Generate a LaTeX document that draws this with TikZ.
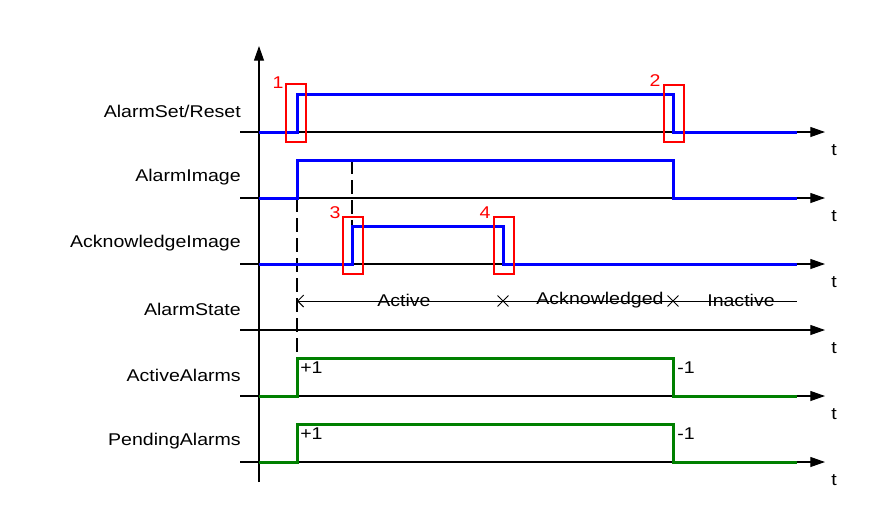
\documentclass[tikz,border=0pt]{standalone}
\usepackage{fontspec}
\setmainfont{Liberation Sans}[FakeStretch=1.15]
\usetikzlibrary{arrows.meta, shapes.misc}

\begin{document}
\begin{tikzpicture}[x=0.75pt, y=-0.75pt,
    every node/.style={font=\fontsize{12.75}{15}\selectfont, inner sep=0pt},
    axis/.style={line width=0.8pt, -{Triangle[length=11pt, width=7.5pt]}},
    bluesig/.style={line width=2.25pt, blue},
    greensig/.style={line width=2.25pt, green!50!black},
    redbox/.style={draw=red, line width=1pt},
    rednum/.style={text=red},
    guide/.style={line width=1.1pt, dash pattern=on 10.5pt off 4.5pt},
    xmark/.style={cross out, draw, line width=0.7pt, minimum size=7.5pt}]
  \useasboundingbox (0,0) rectangle (876,529);

  \draw[axis] (259,482) -- (259,46);
  \foreach \y/\name/\txt in {132/set/AlarmSet\slash Reset, 198/image/AlarmImage,
      264/ack/AcknowledgeImage, 330/state/AlarmState, 396/active/ActiveAlarms,
      462/pending/PendingAlarms} {
    \draw[axis] (240,\y) -- (825,\y);
    \node[anchor=east] (lbl-\name) at (241,\y-21) {\txt};
    \node (t-\name) at (834,\y+18) {t};
  }

  \draw[guide] (297,198) -- (297,358);
  \draw[guide] (352,160) -- (352,226);

  \draw[bluesig] (259,132) -- (297,132) -- (297,94) -- (673,94) -- (673,132) -- (797,132);
  \draw[bluesig] (259,198) -- (297,198) -- (297,160) -- (673,160) -- (673,198) -- (797,198);
  \draw[bluesig] (259,264) -- (352,264) -- (352,226) -- (503,226) -- (503,264) -- (797,264);
  \draw[greensig] (259,396) -- (297,396) -- (297,358) -- (673,358) -- (673,396) -- (797,396);
  \draw[greensig] (259,462) -- (297,462) -- (297,424) -- (673,424) -- (673,462) -- (797,462);

  \coordinate (onmark) at (297,301);
  \coordinate (endmark) at (797,301);
  \draw[line width=0.75pt, {Straight Barb[length=4.5pt, width=9pt]}-] (onmark) -- (endmark);
  \node[xmark] (ackmark) at (503,301) {};
  \node[xmark] (offmark) at (673,301) {};
  \node (active) at (404,300) {Active};
  \node (acked) at (600,300) {Acknowledged};
  \node (inactive) at (741,300) {Inactive};

  \draw[redbox] (286,84) rectangle (306,142);
  \draw[redbox] (664,85) rectangle (684,142);
  \draw[redbox] (343,217) rectangle (363,274);
  \draw[redbox] (494,217) rectangle (514,274);
  \node[rednum] (n1) at (278,83) {1};
  \node[rednum] (n2) at (655,81) {2};
  \node[rednum] (n3) at (335,213) {3};
  \node[rednum] (n4) at (485,213) {4};

  \node[anchor=west] (inc-active) at (300,368) {+1};
  \node[anchor=west] (inc-pending) at (300,434) {+1};
  \node[anchor=west] (dec-active) at (677,368) {-1};
  \node[anchor=west] (dec-pending) at (677,434) {-1};
\end{tikzpicture}
\end{document}
